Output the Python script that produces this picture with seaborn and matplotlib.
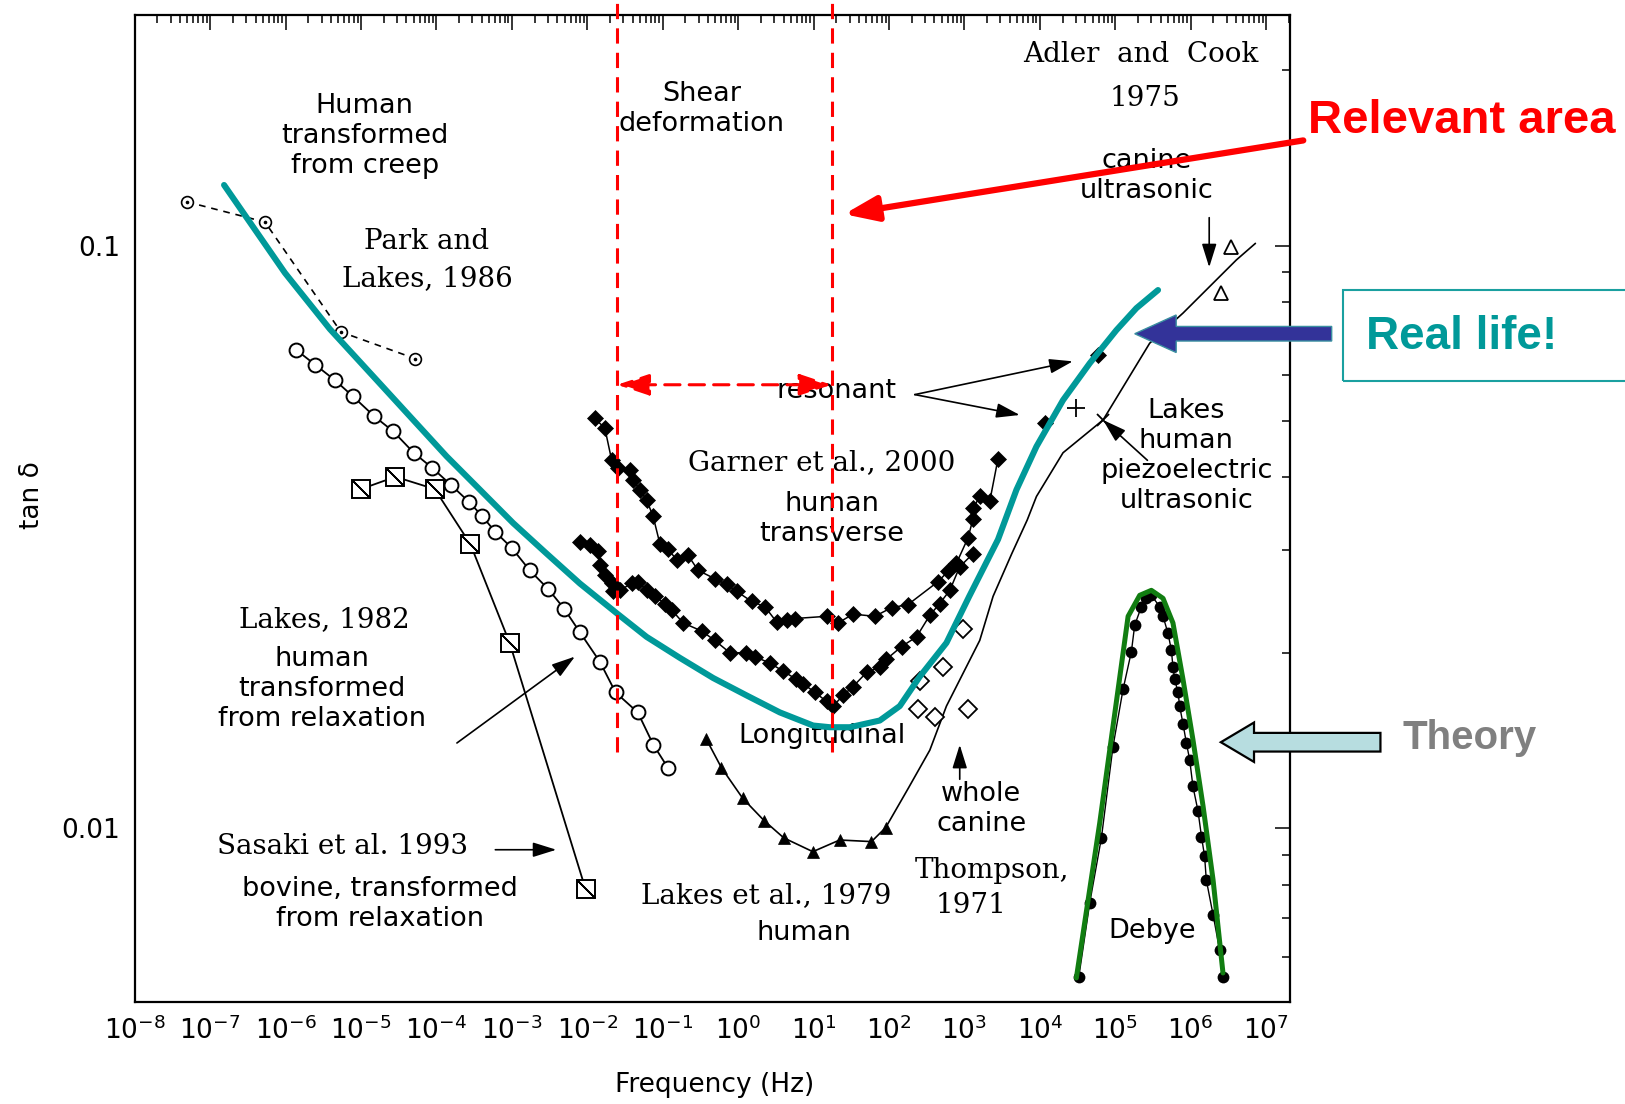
import numpy as np
import seaborn as sns
import matplotlib.pyplot as plt
from matplotlib.patches import FancyArrow, FancyArrowPatch, Rectangle
from matplotlib.ticker import LogLocator, NullFormatter

# ---- data (frequency in Hz, tan delta) ----
# Park and Lakes 1986, human, transformed from creep
park_f = [4.93e-8, 5.33e-7, 5.42e-6, 5.19e-5]
park_tan = [0.1189, 0.1098, 0.0711, 0.0640]

# Lakes 1982, human, transformed from relaxation
lakes82_f = [1.39e-6, 2.49e-6, 4.55e-6, 7.83e-6, 1.51e-5, 2.67e-5, 5.0e-5, 8.87e-5,
             1.57e-4, 2.71e-4, 4.07e-4, 5.96e-4, 9.9e-4, 1.73e-3, 3.06e-3, 4.94e-3,
             7.96e-3, 1.47e-2, 2.37e-2, 4.67e-2, 7.52e-2, 0.117]
lakes82_tan = [0.0662, 0.0624, 0.0587, 0.0551, 0.0509, 0.0480, 0.0441, 0.0415,
               0.0388, 0.0363, 0.0343, 0.0323, 0.0303, 0.0277, 0.0257, 0.0238,
               0.0217, 0.0193, 0.0171, 0.0158, 0.0139, 0.0127]

# Sasaki et al. 1993, bovine
sasaki_f = [1.0e-5, 2.86e-5, 9.5e-5, 2.83e-4, 9.35e-4, 9.5e-3]
sasaki_tan = [0.0382, 0.0401, 0.0382, 0.0307, 0.0208, 0.00785]

# Lakes et al. 1979, human (triangles) and the ultrasonic curve that continues it
lakes79_f = [0.38, 0.60, 1.15, 2.21, 4.03, 9.78, 22.2, 58.6, 90.4]
lakes79_tan = [0.0142, 0.0127, 0.01125, 0.0103, 0.00962, 0.00911, 0.00954, 0.00948, 0.01002]
ultra_f = [182, 348, 578, 1597, 2400, 4250, 6800, 9020, 20300, 68900, 286000, 791000,
           4.03e6, 7.21e6]
ultra_tan = [0.01173, 0.01361, 0.0162, 0.0210, 0.0250, 0.0296, 0.0338, 0.0371, 0.0441,
             0.0502, 0.0680, 0.0766, 0.0945, 0.1009]
piezo_f = [68900]
piezo_tan = [0.0502]

# Garner et al. 2000, transverse (upper) and longitudinal (lower)
garner_t_f = [0.0126, 0.0171, 0.0210, 0.0257, 0.0367, 0.0405, 0.0498, 0.0611, 0.0746,
              0.0916, 0.118, 0.153, 0.217, 0.295, 0.491, 0.702, 0.953, 1.51, 2.26,
              3.23, 4.38, 5.65, 14.9, 21.1, 33.4, 64.9, 108, 179, 448, 607, 785,
              1117, 1303, 1303, 1597, 2168, 2793]
garner_t_tan = [0.0505, 0.0486, 0.0429, 0.0415, 0.0412, 0.0396, 0.0381, 0.0366, 0.0343,
                0.0308, 0.0301, 0.0289, 0.0294, 0.0277, 0.0268, 0.0262, 0.0255, 0.0245,
                0.0240, 0.0226, 0.0228, 0.0229, 0.0231, 0.0225, 0.0233, 0.0231, 0.0239,
                0.0242, 0.0265, 0.0276, 0.0285, 0.0315, 0.0340, 0.0354, 0.0371, 0.0364,
                0.0431]
garner_l_f = [0.00798, 0.0108, 0.0139, 0.0147, 0.0171, 0.0210, 0.0220, 0.0270, 0.0386,
              0.0473, 0.0611, 0.0787, 0.107, 0.131, 0.187, 0.327, 0.491, 0.776, 1.29,
              1.66, 2.63, 3.95, 5.94, 7.28, 10.4, 14.9, 18.2, 24.6, 33.4, 50.4, 75.5,
              92.7, 147, 232, 348, 471, 640, 867, 1303]
garner_l_tan = [0.0310, 0.0306, 0.0299, 0.0283, 0.0272, 0.0263, 0.0255, 0.0256, 0.0263,
                0.0265, 0.0256, 0.0250, 0.0243, 0.0237, 0.0225, 0.0218, 0.0210, 0.0200,
                0.0200, 0.0197, 0.0192, 0.0186, 0.0180, 0.0177, 0.0171, 0.0165, 0.0162,
                0.0169, 0.0175, 0.0185, 0.0189, 0.0195, 0.0205, 0.0213, 0.0232, 0.0243,
                0.0256, 0.0281, 0.0296]

# resonant points
resonant_f = [11600, 59000]
resonant_tan = [0.0496, 0.0649]
resonant_plus_f = [30500]
resonant_plus_tan = [0.0526]

# Thompson 1971, whole canine
thompson_f = [243, 256, 405, 521, 960, 1117]
thompson_tan = [0.0160, 0.0179, 0.0155, 0.0189, 0.0220, 0.0160]

# Adler and Cook 1975, canine ultrasonic
adler_f = [2.55e6, 3.46e6]
adler_tan = [0.0829, 0.0996]

# Debye peak (points) and the theory curve drawn over it
debye_f = [32900, 45800, 65500, 93300, 126800, 163700, 181000, 222000, 259000, 301000,
           388000, 430000, 500000, 555000, 582000, 614000, 679000, 714000, 791000,
           877000, 970000, 1.07e6, 1.25e6, 1.39e6, 1.53e6, 1.61e6, 1.98e6, 2.42e6, 2.68e6]
debye_tan = [0.00556, 0.00743, 0.00962, 0.0138, 0.0173, 0.0201, 0.0223, 0.0240, 0.0248,
             0.0251, 0.0240, 0.0231, 0.0216, 0.0202, 0.0189, 0.0180, 0.0171, 0.0162,
             0.0151, 0.0140, 0.0131, 0.0118, 0.0107, 0.00967, 0.00894, 0.00815,
             0.00710, 0.00618, 0.00556]
theory_f = [30500, 62200, 84400, 109000, 148000, 211000, 301000, 430000, 582000,
            791000, 1.07e6, 1.46e6, 1.98e6, 2.68e6]
theory_tan = [0.00553, 0.0102, 0.0136, 0.0173, 0.0231, 0.0251, 0.0256, 0.0248, 0.0225,
              0.0180, 0.0142, 0.0109, 0.00815, 0.00564]

# "real life" envelope
real_f = [1.53e-7, 9.8e-7, 3.87e-6, 1.61e-5, 4.93e-5, 1.36e-4, 3.78e-4, 1.04e-3,
          2.89e-3, 7.98e-3, 0.0244, 0.0611, 0.169, 0.467, 1.29, 3.57, 9.86, 16.4,
          30.2, 75.5, 139, 256, 578, 1159, 2790, 4900, 9020, 20300, 45800, 103500,
          190500, 369000]
real_tan = [0.1271, 0.0898, 0.0719, 0.0588, 0.0502, 0.0435, 0.0381, 0.0334, 0.0296,
            0.0263, 0.0234, 0.0213, 0.0196, 0.0181, 0.0169, 0.0158, 0.0150, 0.0149,
            0.0149, 0.0153, 0.0162, 0.0182, 0.0208, 0.0250, 0.0313, 0.0381, 0.0452,
            0.0543, 0.0628, 0.0716, 0.0781, 0.0839]

# relevant frequency band (shear deformation)
band_f = [0.0249, 17.3]
band_tan = [0.01353, 0.264]
band_arrow_tan = 0.0577

# ---- style ----
sns.set_theme(style="white")
plt.rcParams["font.family"] = ["DejaVu Sans"]

INK = "black"
RED = "#ff0000"
TEAL = "#009999"
SERIF = "DejaVu Serif"
SANS_SIZE = 19.5
SERIF_SIZE = 20

fig = plt.figure(figsize=(16.25, 11.04), dpi=100)
ax = fig.add_axes([0.0829, 0.0927, 0.7111, 0.8937])
ax.set_xscale("log")
ax.set_yscale("log")


def trace(x, y, **kws):
    sns.lineplot(x=x, y=y, ax=ax, sort=False, estimator=None,
                 errorbar=None, legend=False, **kws)


# measured series
trace(park_f, park_tan, color=INK, lw=1.2, linestyle=(0, (4, 3.5)),
      marker="o", ms=8.5, mfc="white", mec=INK, mew=1.2)
trace(park_f, park_tan, color=INK, linestyle="none", marker="o", ms=2.6,
      mfc=INK, mec=INK, mew=0)

trace(lakes82_f, lakes82_tan, color=INK, lw=1.3, marker="o", ms=10,
      mfc="white", mec=INK, mew=1.4)

trace(sasaki_f, sasaki_tan, color=INK, lw=1.3, marker="s", ms=13,
      mfc="white", mec=INK, mew=1.4)
trace(sasaki_f, sasaki_tan, color=INK, linestyle="none", marker=(2, 2, 45),
      ms=17.5, mec=INK, mew=1.2)

trace(lakes79_f + ultra_f, lakes79_tan + ultra_tan, color=INK, lw=1.2)
trace(lakes79_f, lakes79_tan, color=INK, linestyle="none", marker="^", ms=8.5,
      mfc=INK, mec=INK, mew=0.5)
trace(piezo_f, piezo_tan, color=INK, linestyle="none", marker="x", ms=9,
      mec=INK, mew=1.3)

trace(garner_t_f, garner_t_tan, color=INK, lw=1.1, marker="D", ms=8.5,
      mfc=INK, mec=INK, mew=0.5)
trace(garner_l_f, garner_l_tan, color=INK, lw=1.1, marker="D", ms=8.5,
      mfc=INK, mec=INK, mew=0.5)
trace(resonant_f, resonant_tan, color=INK, linestyle="none", marker="D", ms=8.5,
      mfc=INK, mec=INK, mew=0.5)
trace(resonant_plus_f, resonant_plus_tan, color=INK, linestyle="none", marker="+",
      ms=13, mec=INK, mew=1.3)

trace(thompson_f, thompson_tan, color=INK, linestyle="none", marker="D", ms=9,
      mfc="white", mec=INK, mew=1.3)
trace(adler_f, adler_tan, color=INK, linestyle="none", marker="^", ms=10.5,
      mfc="white", mec=INK, mew=1.3)

trace(debye_f, debye_tan, color=INK, lw=1.0, marker="o", ms=8.5, mfc=INK, mec=INK, mew=0)
trace(theory_f, theory_tan, color="#117d11", lw=3.6, zorder=4)

trace(real_f, real_tan, color=TEAL, lw=4.4, zorder=4)

# shear band markers
for f in band_f:
    trace([f, f], band_tan, color=RED, lw=2.2, linestyle=(0, (5, 3)),
          zorder=5, clip_on=False)
ax.annotate("", xy=(band_f[0], band_arrow_tan), xytext=(band_f[1], band_arrow_tan),
            arrowprops=dict(arrowstyle="<|-|>,head_length=0.9,head_width=0.3",
                            color=RED, lw=2.2, linestyle=(0, (5, 3)),
                            mutation_scale=22, shrinkA=0, shrinkB=0), zorder=5)

# ---- axes ----
ax.set_xlim(1e-8, 10 ** 7.32)
ax.set_ylim(10 ** -2.298, 10 ** -0.604)
ax.xaxis.set_major_locator(LogLocator(base=10, numticks=30))
ax.xaxis.set_minor_locator(LogLocator(base=10, subs=np.arange(2, 10), numticks=30))
ax.xaxis.set_minor_formatter(NullFormatter())
ax.set_yticks([0.01, 0.1], labels=["0.01", "0.1"])
ax.yaxis.set_minor_locator(LogLocator(base=10, subs=np.arange(2, 10), numticks=30))
ax.yaxis.set_minor_formatter(NullFormatter())
ax.tick_params(which="both", direction="in", top=True, right=True,
               width=1.1, color=INK, labelcolor=INK)
ax.tick_params(which="major", length=11, labelsize=19, pad=10.5)
ax.tick_params(which="minor", length=6)
for sp in ax.spines.values():
    sp.set_color(INK)
    sp.set_linewidth(1.6)

ax.set_xlabel("Frequency (Hz)", fontsize=19, color=INK)
ax.xaxis.set_label_coords(0.502, -0.071)
ax.set_ylabel("tan δ", fontsize=19, color=INK)
ax.yaxis.set_label_coords(-0.078, 0.513)

# ---- labels inside the plot ----
sans_labels = [
    (1.12e-5, 0.1544, "Human\ntransformed\nfrom creep"),
    (0.327, 0.1717, "Shear\ndeformation"),
    (2.63e5, 0.1316, "canine\nultrasonic"),
    (19.9, 0.0564, "resonant"),
    (17.6, 0.0340, "human\ntransverse"),
    (8.75e5, 0.0435, "Lakes\nhuman\npiezoelectric\nultrasonic"),
    (3.06e-6, 0.0173, "human\ntransformed\nfrom relaxation"),
    (12.8, 0.0144, "Longitudinal"),
    (1670, 0.0108, "whole\ncanine"),
    (7.48, 0.00661, "human"),
    (1.80e-5, 0.00741, "bovine, transformed\nfrom relaxation"),
    (3.08e5, 0.00667, "Debye"),
]
for x, y, s in sans_labels:
    ax.text(x, y, s, ha="center", va="center", fontsize=SANS_SIZE, color=INK,
            linespacing=1.2, zorder=3)

serif_labels = [
    (7.48e-5, 0.0944, "Park and\nLakes, 1986", 1.5),
    (2.18e5, 0.2126, "Adler  and  Cook", 1.2),
    (2.47e5, 0.179, "1975", 1.2),
    (12.8, 0.0425, "Garner et al., 2000", 1.2),
    (3.27e-6, 0.0228, "Lakes, 1982", 1.2),
    (2290, 0.00845, "Thompson,", 1.2),
    (1217, 0.00735, "1971", 1.2),
    (2.39, 0.00766, "Lakes et al., 1979", 1.2),
    (5.77e-6, 0.00929, "Sasaki et al. 1993", 1.2),
]
for x, y, s, ls in serif_labels:
    ax.text(x, y, s, ha="center", va="center", fontsize=SERIF_SIZE, color=INK,
            family=SERIF, linespacing=ls, zorder=3)

# small black pointer arrows
pointer = dict(arrowstyle="-|>,head_length=0.8,head_width=0.25", color=INK, lw=1.2,
               mutation_scale=18, shrinkA=0, shrinkB=0)
pointers = [
    ((1.76e6, 0.1117), (1.76e6, 0.0918)),
    ((220, 0.0555), (27400, 0.0633)),
    ((220, 0.0555), (5420, 0.0512)),
    ((2.67e5, 0.0428), (68900, 0.0502)),
    ((1.87e-4, 0.0140), (6.86e-3, 0.0197)),
    ((867, 0.01213), (867, 0.0139)),
    ((6.04e-4, 0.00918), (3.89e-3, 0.00918)),
]
for start, end in pointers:
    ax.annotate("", xy=end, xytext=start, arrowprops=pointer, annotation_clip=False)

# ---- overlay call-outs outside the axes ----
fig.add_artist(FancyArrowPatch((0.8037, 0.8732), (0.5178, 0.8056),
                               transform=fig.transFigure,
                               arrowstyle="-|>,head_length=1.1,head_width=0.42",
                               mutation_scale=18, lw=4.5, color=RED, zorder=6))
fig.text(0.8048, 0.890, "Relevant area", ha="left", va="center", color=RED,
         fontsize=34, fontweight="bold", family="Liberation Sans")

fig.add_artist(Rectangle((0.8265, 0.6545), 0.19, 0.0826, transform=fig.transFigure,
                         fill=False, ec="#1aa0a0", lw=1.5))
fig.text(0.8992, 0.6948, "Real life!", ha="center", va="center", color=TEAL,
         fontsize=33, fontweight="bold", family="Liberation Sans")
fig.add_artist(FancyArrow(0.8195, 0.6977, -0.1212, 0, width=0.0132, head_width=0.034,
                          head_length=0.0255, length_includes_head=True,
                          transform=fig.transFigure, fc="#333399", ec="#3a8fa0", lw=1))

fig.add_artist(FancyArrow(0.8495, 0.3277, -0.0982, 0, width=0.0169, head_width=0.0357,
                          head_length=0.0204, length_includes_head=True,
                          transform=fig.transFigure, fc="#b7dde0", ec=INK, lw=1.6))
fig.text(0.9043, 0.3315, "Theory", ha="center", va="center", color="#808080",
         fontsize=29, fontweight="bold", family="Liberation Sans")

fig.savefig("out.png", dpi=100)
